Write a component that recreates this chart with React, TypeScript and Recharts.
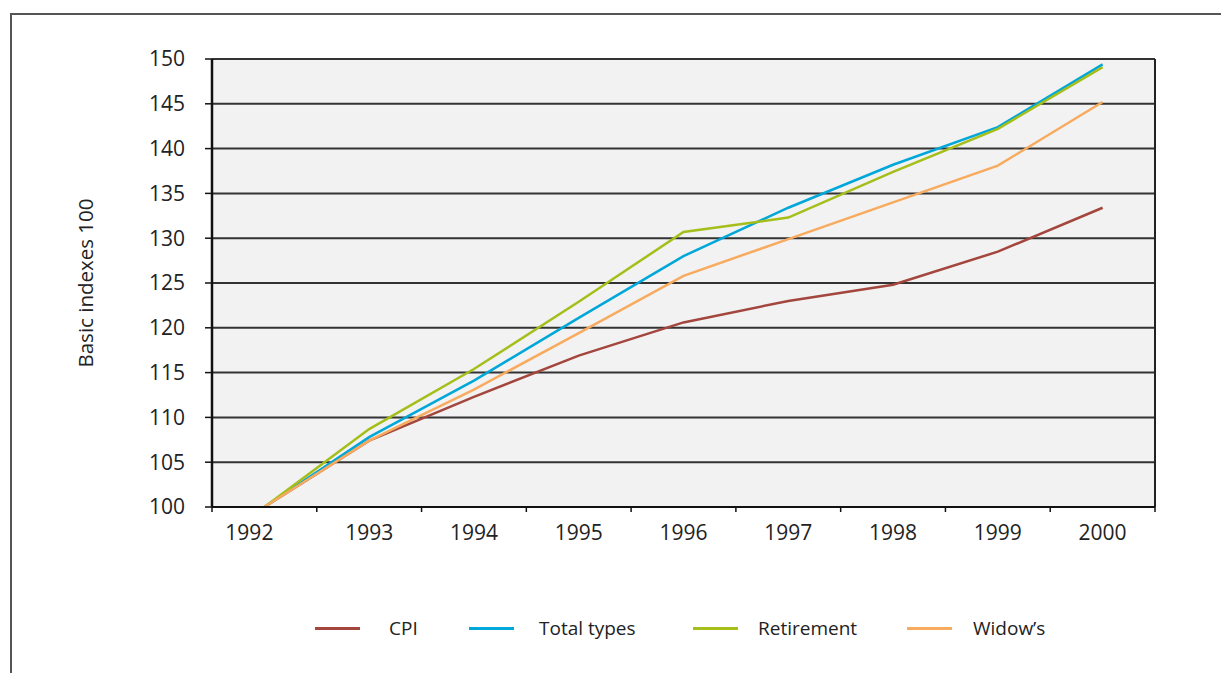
import React from "react";
import {
  LineChart,
  Line,
  XAxis,
  YAxis,
  CartesianGrid,
  Legend,
  Label,
  ReferenceLine,
} from "recharts";

// values (index, 1992 = 100)
const YEARS = ["1992", "1993", "1994", "1995", "1996", "1997", "1998", "1999", "2000"];
const CPI = [100, 107.4, 112.3, 116.9, 120.6, 123.0, 124.8, 128.5, 133.4];
const TOTAL_TYPES = [100, 107.8, 114.1, 121.1, 128.0, 133.4, 138.2, 142.4, 149.4];
const RETIREMENT = [100, 108.7, 115.4, 122.9, 130.7, 132.3, 137.4, 142.2, 149.1];
const WIDOWS = [100, 107.4, 113.1, 119.4, 125.8, 129.9, 134.0, 138.1, 145.2];
const Y_TICKS = [100, 105, 110, 115, 120, 125, 130, 135, 140, 145, 150];

const SERIES = [
  { key: "cpi", name: "CPI", color: "#a3463d" },
  { key: "total", name: "Total types", color: "#00a7d9" },
  { key: "retirement", name: "Retirement", color: "#a5be1a" },
  { key: "widows", name: "Widow\u2019s", color: "#f8ab5e" },
];

const data = YEARS.map((y, i) => ({
  year: Number(y),
  cpi: CPI[i],
  total: TOTAL_TYPES[i],
  retirement: RETIREMENT[i],
  widows: WIDOWS[i],
}));

// category boundaries, so tick marks fall between the years
const X_BOUNDS = [...YEARS.map((y) => Number(y) - 0.5), Number(YEARS[YEARS.length - 1]) + 0.5];

const FONT = "'Open Sans', sans-serif";
const PLOT_W = 943;
const HALF_STEP = PLOT_W / YEARS.length / 2;

const XTick = (props: any) => {
  const { x, y, payload } = props;
  const idx = Math.round(payload.value - X_BOUNDS[0]);
  if (idx >= YEARS.length) return null;
  const shift = idx === 0 ? -15 : 0;
  return (
    <text
      x={x + HALF_STEP + shift}
      y={y}
      dy="0.71em"
      textAnchor="middle"
      fontFamily={FONT}
      fontSize={21}
      fill="#222"
    >
      {YEARS[idx]}
    </text>
  );
};

// legend item box widths and line-to-text gaps, as spaced in the reference
const LEGEND_WIDTHS = [154, 224, 214, 160];
const LEGEND_TEXT_GAP = [29, 25, 20, 21];

const renderLegend = () => (
  <div
    style={{
      display: "flex",
      alignItems: "center",
      fontFamily: FONT,
      fontSize: 19,
      color: "#222",
      paddingLeft: 103,
    }}
  >
    {SERIES.map((s, i) => (
      <div
        key={s.key}
        style={{
          display: "flex",
          alignItems: "center",
          width: LEGEND_WIDTHS[i],
          flex: "none",
        }}
      >
        <span
          style={{
            display: "inline-block",
            width: 45,
            height: 3,
            background: s.color,
            marginRight: LEGEND_TEXT_GAP[i],
          }}
        />
        <span>{s.name}</span>
      </div>
    ))}
  </div>
);

export default function App() {
  return (
    <div
      style={{
        position: "absolute",
        left: 10,
        top: 13,
        width: 1211,
        height: 660,
        boxSizing: "border-box",
        borderTop: "2px solid #555",
        borderLeft: "2px solid #555",
        overflow: "hidden",
      }}
    >
      <LineChart
        width={1190}
        height={650}
        data={data}
        margin={{ top: 44, right: 47, left: 60, bottom: 118 }}
      >
        <CartesianGrid
          vertical={false}
          fill="#f2f2f2"
          stroke="#333"
          strokeWidth={2}
          strokeOpacity={1}
        />
        <XAxis
          dataKey="year"
          type="number"
          domain={[X_BOUNDS[0], X_BOUNDS[X_BOUNDS.length - 1]]}
          ticks={X_BOUNDS}
          interval={0}
          height={40}
          tickSize={5}
          tickMargin={13}
          tick={<XTick />}
          axisLine={{ stroke: "#111", strokeWidth: 2 }}
          tickLine={{ stroke: "#111", strokeWidth: 1.5 }}
        />
        <YAxis
          type="number"
          domain={[100, 150]}
          ticks={Y_TICKS}
          interval={0}
          width={140}
          tickSize={7}
          tickMargin={20}
          tick={{ fontFamily: FONT, fontSize: 21, fill: "#222" }}
          axisLine={{ stroke: "#111", strokeWidth: 2.5 }}
          tickLine={{ stroke: "#111", strokeWidth: 1.5 }}
        >
          <Label
            content={() => (
              <text
                x={73}
                y={268}
                transform="rotate(-90 73 268)"
                textAnchor="middle"
                dominantBaseline="central"
                fontFamily={FONT}
                fontSize={20.5}
                fill="#222"
              >
                Basic indexes 100
              </text>
            )}
          />
        </YAxis>
        <ReferenceLine x={X_BOUNDS[X_BOUNDS.length - 1]} stroke="#222" strokeWidth={2} />
        <Legend
          layout="horizontal"
          verticalAlign="middle"
          align="center"
          wrapperStyle={{ top: 600, left: 200, width: PLOT_W }}
          content={renderLegend}
        />
        {SERIES.map((s) => (
          <Line
            key={s.key}
            dataKey={s.key}
            name={s.name}
            stroke={s.color}
            strokeWidth={2.5}
            dot={false}
            type="linear"
            isAnimationActive={false}
          />
        ))}
      </LineChart>
    </div>
  );
}
